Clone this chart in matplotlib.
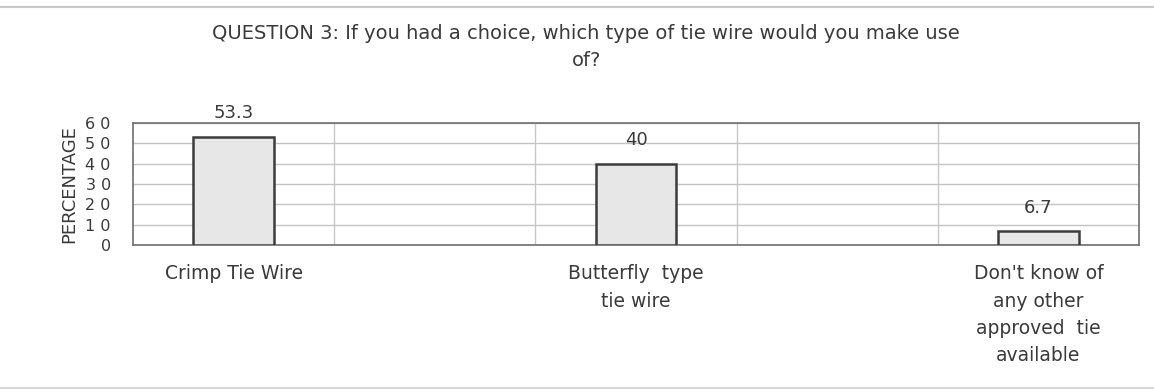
import numpy as np
import matplotlib.pyplot as plt

# data
categories = ['Crimp Tie Wire', 'Butterfly  type\ntie wire',
              "Don't know of\nany other\napproved  tie\navailable"]
percentages = [53.3, 40, 6.7]
yticks = [0, 10, 20, 30, 40, 50, 60]
vgrid = [0.25, 0.75, 1.25, 1.75]

plt.rcParams['font.family'] = ['DejaVu Sans']
txt = '#3a3a3a'

fig = plt.figure(figsize=(11.54, 3.9), dpi=100)
ax = fig.add_axes([0.1153, 0.3718, 0.8718, 0.3128])

x = np.arange(len(categories))
ax.bar(x, percentages, width=0.2, color='#e7e7e7', edgecolor='#3c3c3c',
       linewidth=1.8, zorder=3)

for xi, v in zip(x, percentages):
    ax.annotate(f'{v:g}', (xi, v), xytext=(0, 17), textcoords='offset points',
                ha='center', va='center', fontsize=13, color=txt)

ax.set_xlim(-0.25, 2.25)
ax.set_ylim(0, 60)
ax.set_yticks(yticks)
ax.set_yticklabels([' '.join(str(t)) for t in yticks], fontsize=11.5, color=txt)
ax.set_xticks(x)
ax.set_xticklabels(categories, fontsize=13.5, color=txt, linespacing=1.55,
                   va='top')
ax.tick_params(axis='x', length=0, pad=14)
ax.tick_params(axis='y', length=0, pad=16)

ax.yaxis.grid(True, color='#c4c4c4', linewidth=1, zorder=0)
for g in vgrid:
    ax.axvline(g, color='#c8c8c8', linewidth=1, zorder=0)
for s in ax.spines.values():
    s.set_color('#6e6e6e')
    s.set_linewidth(1.2)

ax.set_ylabel('PERCENTAGE', fontsize=13, color=txt, labelpad=5)

fig.text(0.508, 0.915, 'QUESTION 3: If you had a choice, which type of tie wire would you make use',
         ha='center', va='center', fontsize=14, color=txt)
fig.text(0.508, 0.846, 'of?', ha='center', va='center', fontsize=14, color=txt)

# faint scan frame lines
fig.add_artist(plt.Line2D([0, 1], [0.982, 0.982], color='#c8c8c8', linewidth=1.5))
fig.add_artist(plt.Line2D([0, 1], [0.006, 0.006], color='#d8d8d8', linewidth=1.5))

plt.savefig('out.png', dpi=100)
